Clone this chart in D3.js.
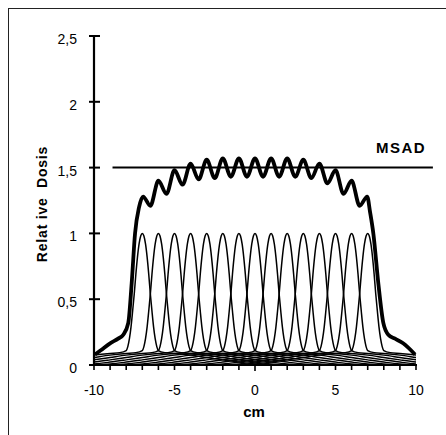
<!DOCTYPE html>
<html>
<head>
<meta charset="utf-8">
<script src="https://cdn.jsdelivr.net/npm/d3@7"></script>
<style>
  body { margin: 0; background: #fff; }
  text { font-family: "Liberation Sans", Arial, sans-serif; fill: #000; }
</style>
</head>
<body>
<div id="chart"></div>
<script>

// centres of the single scan profiles (cm)
var profileCenters = [-7, -6, -5, -4, -3, -2, -1, 0, 1, 2, 3, 4, 5, 6, 7];

// shape of one profile (offset from centre in cm, relative dose)
var profileOffsets = [-9, -8, -7, -6, -5, -4, -3, -2, -1.4, -1.0, -0.9, -0.8, -0.7, -0.6, -0.5, -0.4, -0.3, -0.2, -0.1, 0,
                      0.1, 0.2, 0.3, 0.4, 0.5, 0.6, 0.7, 0.8, 0.9, 1.0, 1.4, 2, 3, 4, 5, 6, 7, 8, 9];
var profileValues = [0, 0.002, 0.008, 0.022, 0.039, 0.057, 0.075, 0.088, 0.094, 0.11, 0.14, 0.2, 0.29, 0.41, 0.54, 0.69, 0.82, 0.92, 0.98, 1.0,
                     0.98, 0.92, 0.82, 0.69, 0.54, 0.41, 0.29, 0.2, 0.14, 0.11, 0.094, 0.088, 0.075, 0.057, 0.039, 0.022, 0.008, 0.002, 0];

// summed dose curve (thick line)
var sumX = [-9.94, -9.6, -9.0, -8.5, -8.18, -7.87, -7.66, -7.45, -7.2, -6.95, -6.5, -6.0, -5.5, -5.0, -4.5, -4.0, -3.5, -3.0, -2.5, -2.0, -1.5,
            -1.0, -0.5, 0, 0.5, 1.0, 1.5, 2.0, 2.5, 3.0, 3.5, 4.0, 4.5, 5.0, 5.5, 6.0, 6.5, 6.97, 7.15, 7.35, 7.66, 7.97, 8.28, 8.7, 9.2, 9.94];
var sumY = [0.08, 0.11, 0.165, 0.2, 0.23, 0.32, 0.62, 1.0, 1.2, 1.28, 1.21, 1.40, 1.30, 1.48, 1.37, 1.53, 1.41, 1.56, 1.42, 1.57, 1.43,
            1.57, 1.43, 1.57, 1.43, 1.57, 1.43, 1.57, 1.43, 1.56, 1.42, 1.53, 1.38, 1.48, 1.30, 1.40, 1.21, 1.28, 1.16, 1.0, 0.62, 0.32, 0.23, 0.2, 0.165, 0.08];

// MSAD level and the span of its line
var msadLevel = 1.5;
var msadSpan = [-8.85, 11.05];

// axis ticks
var xTickValues = [-10, -5, 0, 5, 10];
var xMinorTicks = [-10, -9, -8, -7, -6, -5, -4, -3, -2, -1, 0, 1, 2, 3, 4, 5, 6, 7, 8, 9, 10];
var yTickValues = [0, 0.5, 1, 1.5, 2, 2.5];
var yTickLabels = ["0", "0,5", "1", "1,5", "2", "2,5"];

drawChart();

function drawChart() {
  var width = 446, height = 435;

  var svg = d3.select("#chart").append("svg")
    .attr("width", width)
    .attr("height", height);

  // outer frame
  svg.append("rect")
    .attr("x", 8.5).attr("y", 8.5)
    .attr("width", 460).attr("height", 460)
    .attr("fill", "none")
    .attr("stroke", "#222")
    .attr("stroke-width", 1);

  var x = d3.scaleLinear().domain([-10, 10]).range([94, 416]);
  var y = d3.scaleLinear().domain([0, 2.5]).range([365, 36]);

  svg.append("clipPath").attr("id", "plotclip")
    .append("rect")
    .attr("x", x(-10)).attr("y", 0)
    .attr("width", x(10) - x(-10)).attr("height", y(0) + 2);

  var line = d3.line()
    .x(function(d) { return x(d[0]); })
    .y(function(d) { return y(d[1]); })
    .curve(d3.curveMonotoneX);

  // single profiles
  var plot = svg.append("g").attr("clip-path", "url(#plotclip)");
  profileCenters.forEach(function(c) {
    var pts = profileOffsets.map(function(o, i) { return [c + o, profileValues[i]]; });
    plot.append("path")
      .attr("d", line(pts))
      .attr("fill", "none")
      .attr("stroke", "#000")
      .attr("stroke-width", 1.5);
  });

  // summed curve
  svg.append("path")
    .attr("d", line(sumX.map(function(v, i) { return [v, sumY[i]]; })))
    .attr("fill", "none")
    .attr("stroke", "#000")
    .attr("stroke-width", 3.8)
    .attr("stroke-linejoin", "round");

  // MSAD line + label
  svg.append("line")
    .attr("x1", x(msadSpan[0])).attr("x2", x(msadSpan[1]))
    .attr("y1", y(msadLevel)).attr("y2", y(msadLevel))
    .attr("stroke", "#000")
    .attr("stroke-width", 2);

  svg.append("text")
    .attr("x", 376).attr("y", 153)
    .style("font-size", "15px")
    .style("font-weight", "bold")
    .style("letter-spacing", "1.5px")
    .text("MSAD");

  // x axis
  var xAxis = svg.append("g");
  xAxis.append("line")
    .attr("x1", x(-10) - 1).attr("x2", x(10) + 1)
    .attr("y1", y(0)).attr("y2", y(0))
    .attr("stroke", "#000").attr("stroke-width", 2.2);
  xAxis.selectAll(".xt").data(xMinorTicks).enter().append("line")
    .attr("x1", function(d) { return x(d); })
    .attr("x2", function(d) { return x(d); })
    .attr("y1", y(0))
    .attr("y2", function(d) { return y(0) + (d == 0 ? 6 : 5); })
    .attr("stroke", "#000").attr("stroke-width", 1.6);
  xAxis.selectAll(".xl").data(xTickValues).enter().append("text")
    .attr("x", function(d) { return x(d); })
    .attr("y", 395)
    .attr("text-anchor", "middle")
    .style("font-size", "14px")
    .text(function(d) { return d; });

  svg.append("text")
    .attr("x", 254).attr("y", 417)
    .attr("text-anchor", "middle")
    .style("font-size", "15px")
    .style("font-weight", "bold")
    .text("cm");

  // y axis
  var yAxis = svg.append("g");
  yAxis.append("line")
    .attr("x1", x(-10)).attr("x2", x(-10))
    .attr("y1", y(2.5)).attr("y2", y(0) + 1)
    .attr("stroke", "#000").attr("stroke-width", 2.2);
  yAxis.selectAll(".yt").data(yTickValues).enter().append("line")
    .attr("x1", x(-10) - 5).attr("x2", x(-10) + 6)
    .attr("y1", function(d) { return y(d); })
    .attr("y2", function(d) { return y(d); })
    .attr("stroke", "#000").attr("stroke-width", 2);
  yAxis.selectAll(".yl").data(yTickValues).enter().append("text")
    .attr("x", 77)
    .attr("y", function(d) { return y(d) + 8; })
    .attr("text-anchor", "end")
    .style("font-size", "14px")
    .text(function(d, i) { return yTickLabels[i]; });

  svg.append("text")
    .attr("transform", "translate(47,204) rotate(-90)")
    .attr("text-anchor", "middle")
    .style("font-size", "14px")
    .style("font-weight", "bold")
    .style("letter-spacing", "0.8px")
    .style("white-space", "pre")
    .text("Relat ive  Dosis");
}
</script>
</body>
</html>
